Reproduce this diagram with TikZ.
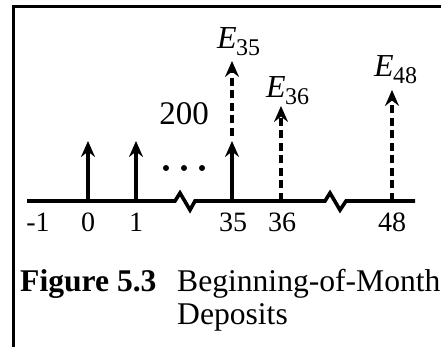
\documentclass[tikz,border=0pt]{standalone}
\usepackage{fontspec}
\setmainfont{Liberation Serif}
\usetikzlibrary{arrows.meta}

\tikzset{
  axisline/.style={line width=3.6pt, line join=miter},
  flow/.style={line width=3.6pt, -{Stealth[length=16pt, width=14pt, inset=5.5pt]}},
  dashedflow/.style={flow, dash pattern=on 8pt off 4.5pt},
  ticklabel/.style={inner sep=0pt, anchor=base, font=\fontsize{28}{28}\selectfont},
  elabel/.style={inner sep=0pt, anchor=base west, font=\fontsize{32}{32}\selectfont},
  captext/.style={inner sep=0pt, anchor=base west, font=\fontsize{31.6}{31.6}\selectfont},
  frameline/.style={line width=3pt},
}
\newcommand{\subE}[1]{\textit{E}\kern-0.02em\raisebox{-0.2em}{\fontsize{24}{24}\selectfont #1}}

\begin{document}
\begin{tikzpicture}[x=1pt, y=-1pt]
  \useasboundingbox (0,0) rectangle (441,347);

  % open frame: left and top edges
  \coordinate (fbl) at (13,350);
  \coordinate (ftl) at (13,6.5);
  \coordinate (ftr) at (445,6.5);
  \draw[frameline] (fbl) -- (ftl) -- (ftr);

  % time axis with two breaks
  \coordinate (axL) at (27,201);
  \coordinate (axR) at (415,201);
  \draw[axisline] (axL) -- (175,201) -- (180,193) -- (190,210) -- (195,201)
        -- (325,201) -- (330,193) -- (340,210) -- (346,201) -- (axR);

  % points on the axis
  \coordinate (p0)  at (88,201);
  \coordinate (p1)  at (136,201);
  \coordinate (p35) at (232,201);
  \coordinate (p36) at (281,201);
  \coordinate (p48) at (392,201);

  % deposit arrows
  \coordinate (h0)  at (88,141);
  \coordinate (h1)  at (136,141);
  \coordinate (h35) at (232,141);
  \draw[flow] (p0) -- (h0);
  \draw[flow] (p1) -- (h1);
  \draw[flow] (p35) -- (h35);

  % balance arrows
  \coordinate (s35) at (232,136);
  \coordinate (e35) at (232,61);
  \coordinate (e36) at (281,106);
  \coordinate (e48) at (392,90);
  \draw[dashedflow] (s35) -- (e35);
  \draw[dashedflow] (p36) -- (e36);
  \draw[dashedflow] (p48) -- (e48);

  % ellipsis dots
  \foreach \x [count=\i] in {166,184,202}
    \fill (\x,168) circle[radius=3pt] coordinate (dot\i);

  % labels
  \node[ticklabel] (lm1) at (38,231) {-1};
  \node[ticklabel] (l0)  at (88,231) {0};
  \node[ticklabel] (l1)  at (136,231) {1};
  \node[ticklabel] (l35) at (233,231) {35};
  \node[ticklabel] (l36) at (282,231) {36};
  \node[ticklabel] (l48) at (392,231) {48};

  \node[inner sep=0pt, anchor=base, font=\fontsize{33}{33}\selectfont] (amt) at (184,125) {200};

  \node[elabel] (E35) at (217,49) {\subE{35}};
  \node[elabel] (E36) at (266,98) {\subE{36}};
  \node[elabel] (E48) at (374,77) {\subE{48}};

  % caption
  \node[captext] (capnum) at (20,291) {\textbf{Figure 5.3}};
  \node[captext] (cap1) at (177,291) {Beginning-of-Month};
  \node[captext] (cap2) at (177,324) {Deposits};
\end{tikzpicture}
\end{document}
